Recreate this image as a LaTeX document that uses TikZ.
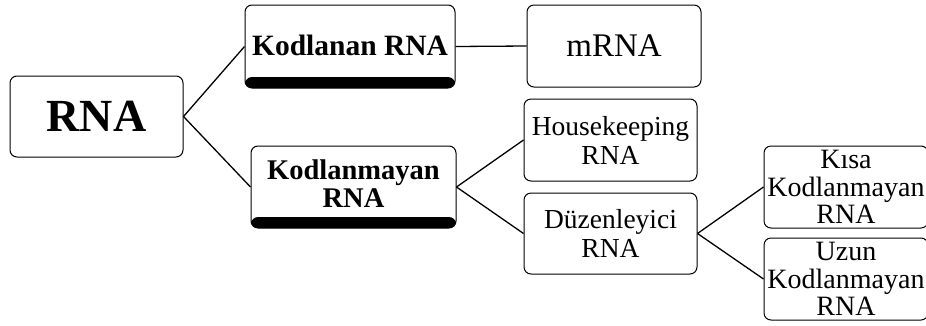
\documentclass[tikz,border=0pt]{standalone}
\usepackage{fontspec}
\setmainfont{Liberation Serif}
\begin{document}
\begin{tikzpicture}[x=1pt,y=-1pt,
    box/.style={draw, line width=1pt, rounded corners=7pt, align=center, inner sep=0pt, fill=white},
    band/.style={path picture={\fill[black] ([yshift=11pt]path picture bounding box.south west) rectangle (path picture bounding box.south east);}},
    link/.style={line width=1.3pt}]
    \useasboundingbox (0,0) rectangle (926,325);

    % root
    \node [box, minimum width=173pt, minimum height=81pt, font=\fontsize{46}{48}\selectfont\bfseries] (rna) at (96.5,116.5) {RNA};
    % first level
    \node [box, band, minimum width=210pt, minimum height=83pt, font=\fontsize{29.5}{28}\selectfont\bfseries, text depth=3pt] (kod) at (350,46.5) {Kodlanan RNA};
    \node [box, band, minimum width=205pt, minimum height=82pt, font=\fontsize{28.5}{28}\selectfont\bfseries, text depth=6pt] (kodm) at (353.5,187) {Kodlanmayan\\RNA};
    % second level
    \node [box, minimum width=174pt, minimum height=82pt, font=\fontsize{33}{33}\selectfont] (mrna) at (614,46) {mRNA};
    \node [box, minimum width=173pt, minimum height=82pt, font=\fontsize{27.5}{29}\selectfont] (house) at (610.5,140) {Housekeeping\\RNA};
    \node [box, minimum width=173pt, minimum height=81pt, font=\fontsize{27.5}{29}\selectfont] (duz) at (610.5,233.5) {Düzenleyici\\RNA};
    % third level
    \node [box, minimum width=164pt, minimum height=82pt, font=\fontsize{28}{27.5}\selectfont] (kisa) at (846,187) {Kısa\\Kodlanmayan\\RNA};
    \node [box, minimum width=164pt, minimum height=82pt, font=\fontsize{28}{27.5}\selectfont] (uzun) at (846,279) {Uzun\\Kodlanmayan\\RNA};

    % connectors
    \draw [link] (rna.east) -- (kod.west);
    \draw [link] (rna.east) -- (kodm.west);
    \draw [link] (kod.east) -- (mrna.west);
    \draw [link] (kodm.east) -- (house.west);
    \draw [link] (kodm.east) -- (duz.west);
    \draw [link] (duz.east) -- (kisa.west);
    \draw [link] (duz.east) -- (uzun.west);
\end{tikzpicture}
\end{document}
